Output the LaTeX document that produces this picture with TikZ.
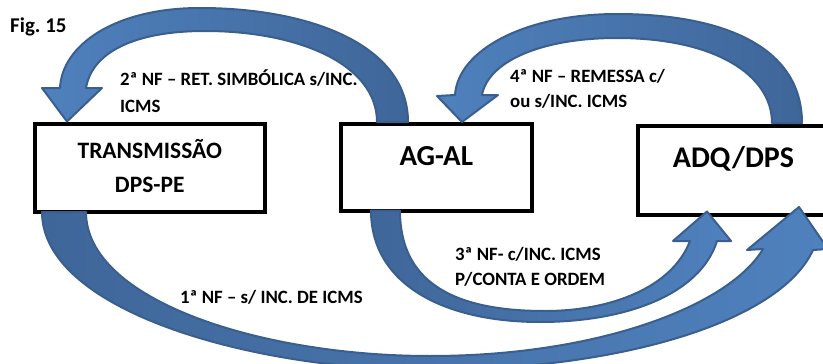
\documentclass[tikz,border=0pt]{standalone}
\usepackage{fontspec}
\setmainfont{Carlito}
\usetikzlibrary{calc}
\definecolor{arrowlite}{HTML}{4F81BD}
\definecolor{arrowdark}{HTML}{3F6699}
\definecolor{arrowline}{HTML}{3A5F8E}
\begin{document}
\begin{tikzpicture}[x=1pt, y=-1pt, font=\bfseries,
	box/.style={draw, line width=4pt, inner sep=0pt, outer sep=0pt, anchor=north west},
	boxtxt/.style={anchor=base, inner sep=0pt},
	nf/.style={anchor=base west, inner sep=0pt, font=\bfseries\fontsize{18.8}{22}\selectfont},
	curv/.style={draw=arrowline, line width=2pt, line join=round}]
	\clip (0,0) rectangle (823,364);
	\node[anchor=base west, inner sep=0pt, font=\bfseries\fontsize{21}{25}\selectfont] (fig) at (10,32) {Fig.\ 15};
	% boxes
	\node[box, minimum width=230.5pt, minimum height=88.5pt] (tr) at (34.5,123.5) {};
	\node[box, minimum width=191.5pt, minimum height=86.5pt] (ag) at (340.5,124) {};
	\node[box, minimum width=192pt, minimum height=89pt] (adq) at (637.5,125.5) {};
	\node[boxtxt, font=\bfseries\fontsize{23.5}{28}\selectfont] (trA) at ([yshift=-34.5pt]tr.north) {TRANSMISSÃO};
	\node[boxtxt, font=\bfseries\fontsize{23.5}{28}\selectfont] (trB) at ([yshift=-34pt]trA.base) {DPS-PE};
	\node[boxtxt, font=\bfseries\fontsize{29}{34}\selectfont] (agT) at ([yshift=-41pt]ag.north) {AG-AL};
	\node[boxtxt, font=\bfseries\fontsize{30}{36}\selectfont] (adqT) at ([yshift=-41.5pt]adq.north) {ADQ/DPS};
	% curved arrows
	\filldraw[curv, left color=arrowlite, right color=arrowdark] ($(ag.north west)+(67.5,-2)$) .. controls (408,45) and (310,8) .. (200,8) .. controls (115,8) and (62,45) .. (60,88) -- (42,88) -- ($(tr.north west)+(32.5,-2)$) -- (102,88) -- (86,88) .. controls (92,52) and (135,31) .. (205,31) .. controls (300,31) and (377,65) .. ($(ag.north west)+(36.5,-2)$) -- cycle;
	\filldraw[curv, left color=arrowlite, right color=arrowdark] ($(adq.north west)+(164.5,-2.5)$) .. controls (802,45) and (720,14) .. (617,14) .. controls (525,14) and (458,50) .. (455,95) -- (437,96) -- ($(ag.north west)+(121.5,-2)$) -- (498,95) -- (482,95) .. controls (488,62) and (540,38) .. (617,38) .. controls (715,38) and (772,75) .. ($(adq.north west)+(134.5,-2.5)$) -- cycle;
	\filldraw[curv, left color=arrowdark, right color=arrowlite] ($(ag.south west)+(30.5,0)$) .. controls (371,285) and (445,322) .. (540,322) .. controls (625,322) and (700,295) .. (717,241) -- (731,241) -- ($(adq.south west)+(69.5,-3)$) -- (673,241) -- (690,241) .. controls (672,288) and (610,311) .. (545,311) .. controls (450,311) and (400,280) .. ($(ag.south west)+(59.5,0)$) -- cycle;
	\filldraw[curv, left color=arrowdark, right color=arrowlite] ($(tr.south west)+(7.5,0)$) .. controls (42,310) and (250,370) .. (430,370) .. controls (620,370) and (780,322) .. (813,250) -- (828,249) -- ($(adq.south west)+(161.5,-7.5)$) -- (747,250) -- (763,249) .. controls (730,305) and (600,356) .. (430,356) .. controls (260,356) and (86,300) .. ($(tr.south west)+(51.5,0)$) -- cycle;
	% labels
	\node[nf] (nf2a) at (120,85) {2ª NF – RET. SIMBÓLICA s/INC.};
	\node[nf] (nf2b) at ([yshift=-27pt]nf2a.base west) {ICMS};
	\node[nf] (nf4a) at (510,82) {4ª NF – REMESSA c/};
	\node[nf] (nf4b) at ([yshift=-25pt]nf4a.base west) {ou s/INC. ICMS};
	\node[nf] (nf3a) at (455,260) {3ª NF- c/INC. ICMS};
	\node[nf] (nf3b) at ([yshift=-25pt]nf3a.base west) {P/CONTA E ORDEM};
	\node[nf] (nf1) at (180,303) {1ª NF – s/ INC. DE ICMS};
\end{tikzpicture}
\end{document}
